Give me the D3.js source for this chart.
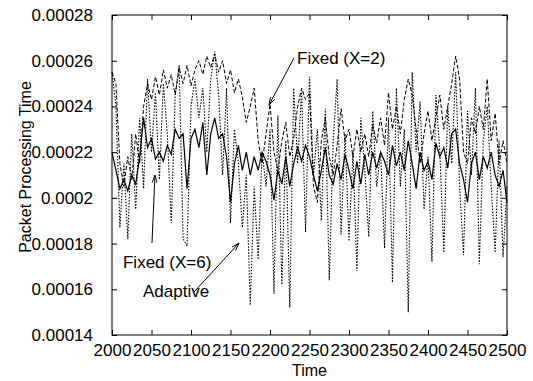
<!DOCTYPE html>
<html>
<head>
<meta charset="utf-8">
<script src="https://cdn.jsdelivr.net/npm/d3@7"></script>
<style>
  html, body { margin: 0; padding: 0; background: #fff; }
  svg { display: block; }
  text { font-family: "Liberation Sans", Arial, Helvetica, sans-serif; fill: #000; }
</style>
</head>
<body>
<svg id="chart" width="533" height="381"></svg>
<script>
// ---- data ----
const times = d3.range(2000, 2501, 5);

const fixedX2 = [
  2.55e-4,2.50e-4,2.15e-4,2.05e-4,2.18e-4,2.08e-4,2.28e-4,2.15e-4,2.40e-4,2.50e-4,
  2.43e-4,2.53e-4,2.45e-4,2.56e-4,2.48e-4,2.54e-4,2.45e-4,2.57e-4,2.50e-4,2.58e-4,
  2.49e-4,2.56e-4,2.60e-4,2.54e-4,2.62e-4,2.57e-4,2.63e-4,2.55e-4,2.60e-4,2.50e-4,
  2.56e-4,2.46e-4,2.52e-4,2.44e-4,2.33e-4,2.40e-4,2.48e-4,2.25e-4,2.15e-4,2.28e-4,
  2.41e-4,2.20e-4,2.12e-4,2.25e-4,2.33e-4,2.18e-4,2.26e-4,2.40e-4,2.48e-4,2.43e-4,
  2.46e-4,2.05e-4,1.98e-4,2.25e-4,2.35e-4,2.18e-4,2.10e-4,2.23e-4,2.39e-4,2.25e-4,
  2.30e-4,2.18e-4,2.30e-4,2.20e-4,2.28e-4,2.18e-4,2.32e-4,2.24e-4,2.35e-4,2.23e-4,
  2.46e-4,2.30e-4,2.40e-4,2.28e-4,2.43e-4,2.52e-4,2.45e-4,2.30e-4,2.15e-4,2.28e-4,
  2.38e-4,2.25e-4,2.35e-4,2.45e-4,2.30e-4,2.40e-4,2.50e-4,2.62e-4,2.52e-4,2.20e-4,
  2.15e-4,2.35e-4,2.28e-4,2.40e-4,2.30e-4,2.52e-4,2.25e-4,2.37e-4,2.15e-4,2.25e-4,
  2.15e-4
];

const fixedX6 = [
  2.20e-4,2.12e-4,2.04e-4,2.08e-4,2.03e-4,2.10e-4,2.06e-4,2.18e-4,2.35e-4,2.22e-4,
  2.26e-4,2.17e-4,2.20e-4,2.16e-4,2.23e-4,2.19e-4,2.30e-4,2.26e-4,2.28e-4,2.04e-4,
  2.26e-4,2.30e-4,2.22e-4,2.33e-4,2.10e-4,2.28e-4,2.35e-4,2.26e-4,2.28e-4,2.18e-4,
  1.98e-4,2.15e-4,2.23e-4,2.12e-4,2.20e-4,2.10e-4,2.18e-4,2.12e-4,2.20e-4,2.16e-4,
  2.10e-4,1.99e-4,2.12e-4,2.06e-4,2.18e-4,2.05e-4,2.15e-4,2.22e-4,2.16e-4,2.23e-4,
  2.18e-4,2.10e-4,2.03e-4,2.12e-4,2.22e-4,2.10e-4,2.06e-4,2.15e-4,2.08e-4,2.19e-4,
  2.12e-4,2.04e-4,2.16e-4,2.06e-4,2.19e-4,2.10e-4,2.20e-4,2.13e-4,2.20e-4,2.16e-4,
  2.10e-4,2.23e-4,2.14e-4,2.20e-4,2.12e-4,2.25e-4,2.15e-4,2.04e-4,2.20e-4,2.12e-4,
  2.16e-4,2.08e-4,2.24e-4,2.18e-4,2.22e-4,2.13e-4,2.28e-4,2.30e-4,2.15e-4,2.08e-4,
  1.98e-4,2.15e-4,2.20e-4,2.08e-4,2.18e-4,2.13e-4,2.20e-4,2.10e-4,2.05e-4,2.12e-4,
  1.98e-4
];

const adaptive = [
  2.55e-4,2.40e-4,1.87e-4,2.15e-4,1.82e-4,2.28e-4,1.95e-4,2.35e-4,2.04e-4,2.52e-4,
  2.20e-4,2.46e-4,2.08e-4,2.50e-4,2.28e-4,1.89e-4,2.45e-4,2.58e-4,1.82e-4,1.79e-4,
  2.40e-4,2.52e-4,2.35e-4,2.48e-4,2.20e-4,2.52e-4,2.64e-4,2.45e-4,2.10e-4,2.48e-4,
  1.89e-4,2.30e-4,2.15e-4,1.87e-4,2.10e-4,1.53e-4,2.05e-4,1.73e-4,2.20e-4,2.05e-4,
  2.30e-4,1.58e-4,2.36e-4,1.62e-4,2.25e-4,1.52e-4,2.48e-4,2.15e-4,2.47e-4,1.85e-4,
  2.53e-4,2.10e-4,2.30e-4,1.90e-4,2.39e-4,1.64e-4,2.25e-4,2.52e-4,1.84e-4,2.28e-4,
  1.81e-4,2.20e-4,1.68e-4,2.35e-4,2.12e-4,1.83e-4,2.38e-4,2.05e-4,2.20e-4,1.78e-4,
  2.35e-4,1.63e-4,2.48e-4,2.05e-4,2.30e-4,1.50e-4,2.55e-4,2.20e-4,2.42e-4,1.95e-4,
  2.18e-4,1.72e-4,2.45e-4,2.20e-4,1.76e-4,2.40e-4,2.15e-4,2.55e-4,2.05e-4,1.75e-4,
  2.38e-4,2.10e-4,2.48e-4,1.71e-4,2.25e-4,2.40e-4,2.05e-4,1.76e-4,2.25e-4,1.74e-4,
  2.05e-4
];

const xTicks = [2000, 2050, 2100, 2150, 2200, 2250, 2300, 2350, 2400, 2450, 2500];
const yTicks = [0.00014, 0.00016, 0.00018, 0.0002, 0.00022, 0.00024, 0.00026, 0.00028];

const labels = [
  { text: "Fixed (X=2)", t: 2234.2, v: 0.0002612, from: [2230.4, 0.0002612], to: [2198.7, 0.0002406] },
  { text: "Fixed (X=6)", t: 2013.9, v: 0.00017194, from: [2050.6, 0.00018025], to: [2054.4, 0.00021] },
  { text: "Adaptive",    t: 2039.2, v: 0.00015925, from: [2103.8, 0.00015881], to: [2160.8, 0.00018025] }
];

// ---- layout ----
const PL = 112, PR = 507, PT = 15, PB = 335;
const svg = d3.select("#chart");
const x = d3.scaleLinear().domain([2000, 2500]).range([PL, PR]);
const y = d3.scaleLinear().domain([0.00014, 0.00028]).range([PB, PT]);
const FS = 17;

// series
const line = d3.line().x((d, i) => x(times[i])).y(d => y(d));
const series = [
  { data: adaptive, dash: "1.5,1.5", w: 1.1 },
  { data: fixedX2,  dash: "4,2",     w: 1 },
  { data: fixedX6,  dash: null,      w: 1.2 }
];
const g = svg.append("g");
series.forEach(s => {
  g.append("path")
    .attr("d", line(s.data))
    .attr("fill", "none")
    .attr("stroke", "#000")
    .attr("stroke-width", s.w)
    .attr("stroke-dasharray", s.dash);
});

// axes
const fmtY = d => String(+d.toFixed(5));
const axL = svg.append("g").attr("transform", `translate(${PL},0)`)
  .call(d3.axisLeft(y).tickValues(yTicks).tickFormat(fmtY).tickSizeInner(-5).tickSizeOuter(0).tickPadding(19));
const axR = svg.append("g").attr("transform", `translate(${PR},0)`)
  .call(d3.axisRight(y).tickValues(yTicks).tickFormat("").tickSizeInner(-5).tickSizeOuter(0));
const axB = svg.append("g").attr("transform", `translate(0,${PB})`)
  .call(d3.axisBottom(x).tickValues(xTicks).tickFormat(d3.format("d")).tickSizeInner(-5).tickSizeOuter(0).tickPadding(9));
const axT = svg.append("g").attr("transform", `translate(0,${PT})`)
  .call(d3.axisTop(x).tickValues(xTicks).tickFormat("").tickSizeInner(-5).tickSizeOuter(0));
[axL, axR, axB, axT].forEach(a => {
  a.select(".domain").remove();
  a.selectAll("line").attr("stroke", "#000");
  a.selectAll("text").attr("font-size", FS).attr("font-family", null);
});

svg.append("rect").attr("x", PL).attr("y", PT).attr("width", PR - PL).attr("height", PB - PT)
  .attr("fill", "none").attr("stroke", "#000").attr("stroke-width", 1);

// axis titles
svg.append("text").attr("x", (PL + PR) / 2).attr("y", 370).attr("dy", "0.35em")
  .attr("text-anchor", "middle").attr("font-size", 16).text("Time");
svg.append("text").attr("transform", "translate(25,167) rotate(-90)")
  .attr("dy", "0.35em").attr("text-anchor", "middle").attr("font-size", 16)
  .text("Packet Processing Time");

// annotations
labels.forEach(a => {
  svg.append("text").attr("x", x(a.t)).attr("y", y(a.v)).attr("dy", "0.35em")
    .attr("font-size", FS).text(a.text);
  const x1 = x(a.from[0]), y1 = y(a.from[1]), x2 = x(a.to[0]), y2 = y(a.to[1]);
  svg.append("line").attr("x1", x1).attr("y1", y1).attr("x2", x2).attr("y2", y2)
    .attr("stroke", "#000").attr("stroke-width", 1);
  const ang = Math.atan2(y2 - y1, x2 - x1), len = 8, spread = 0.3;
  const p1 = [x2 - len * Math.cos(ang - spread), y2 - len * Math.sin(ang - spread)];
  const p2 = [x2 - len * Math.cos(ang + spread), y2 - len * Math.sin(ang + spread)];
  svg.append("path").attr("d", `M${p1}L${x2},${y2}L${p2}`)
    .attr("fill", "none").attr("stroke", "#000").attr("stroke-width", 1);
});
</script>
</body>
</html>
